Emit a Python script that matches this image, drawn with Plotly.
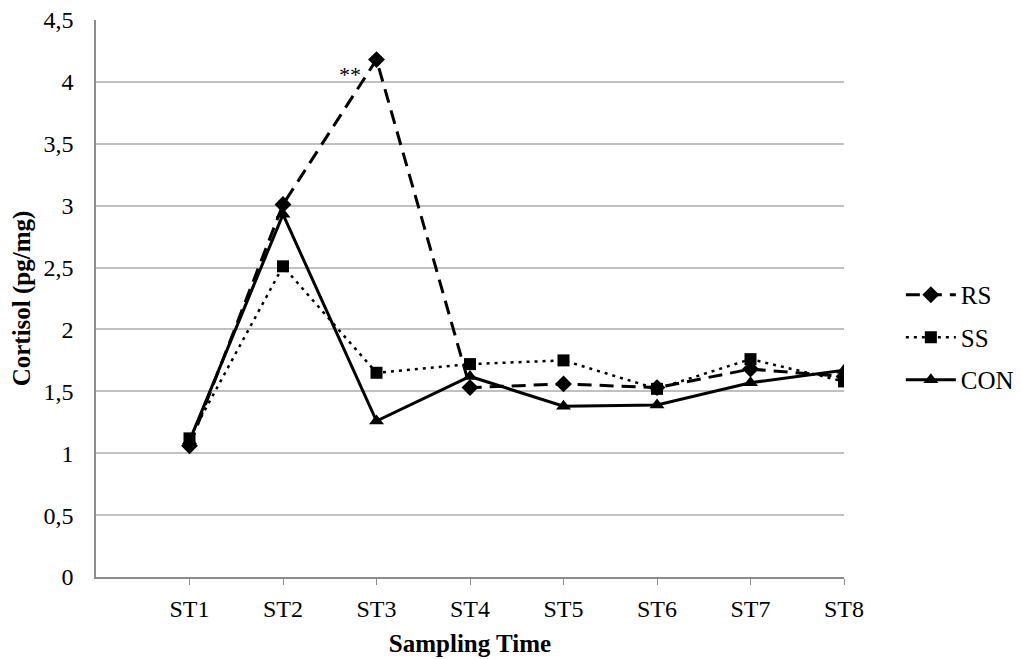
import plotly.graph_objects as go

categories = ["ST1", "ST2", "ST3", "ST4", "ST5", "ST6", "ST7", "ST8"]
rs = [1.06, 3.01, 4.18, 1.53, 1.56, 1.53, 1.68, 1.62]
ss = [1.12, 2.51, 1.65, 1.72, 1.75, 1.52, 1.76, 1.58]
con = [1.10, 2.93, 1.26, 1.62, 1.38, 1.39, 1.57, 1.67]
y_ticks = [0, 0.5, 1, 1.5, 2, 2.5, 3, 3.5, 4, 4.5]
y_labels = ["0", "0,5", "1", "1,5", "2", "2,5", "3", "3,5", "4", "4,5"]

xpos = list(range(1, len(categories) + 1))
font = "Liberation Serif, Times New Roman, serif"

fig = go.Figure()
fig.add_trace(go.Scatter(x=xpos, y=rs, name="RS", mode="lines+markers", legendgroup="a",
                         line=dict(color="black", width=3, dash="14px,8px"),
                         marker=dict(symbol="diamond", size=13, color="black")))
fig.add_trace(go.Scatter(x=xpos, y=ss, name="SS", mode="lines+markers", legendgroup="b",
                         line=dict(color="black", width=2.5, dash="3px,5px"),
                         marker=dict(symbol="square", size=12, color="black")))
fig.add_trace(go.Scatter(x=xpos, y=con, name="CON", mode="lines+markers", legendgroup="c",
                         line=dict(color="black", width=3),
                         marker=dict(symbol="triangle-up", size=13, color="black")))

fig.add_annotation(x=xpos[2], y=rs[2], text="**", showarrow=False,
                   xanchor="right", yanchor="top", xshift=-14, yshift=0,
                   font=dict(family=font, size=22, color="black"))

fig.update_layout(
    width=1022, height=659,
    margin=dict(l=96, r=178, t=20, b=82, autoexpand=False),
    paper_bgcolor="white", plot_bgcolor="white",
    font=dict(family=font, size=24, color="black"),
    showlegend=True,
    legend=dict(x=1.076, y=0.43, xanchor="left", yanchor="middle",
                font=dict(family=font, size=25, color="black"),
                itemwidth=50, tracegroupgap=7, bgcolor="rgba(0,0,0,0)"),
    xaxis=dict(range=[0, 8], tickvals=xpos, ticktext=categories,
               showgrid=False, zeroline=False, showline=True, automargin=False,
               linecolor="#8c8c8c", linewidth=1.5, ticks="outside",
               ticklen=6, tickcolor="#8c8c8c", ticklabelstandoff=3,
               tickfont=dict(family=font, size=24),
               title=dict(text="<b>Sampling Time</b>", standoff=14,
                          font=dict(family=font, size=25))),
    yaxis=dict(range=[0, 4.5], tickvals=y_ticks, ticktext=y_labels,
               showgrid=True, gridcolor="#c0c0c0", gridwidth=1.5,
               zeroline=False, showline=True, linecolor="#8c8c8c", automargin=False,
               linewidth=1.5, ticks="", ticklen=0, ticklabelstandoff=16,
               tickfont=dict(family=font, size=24),
               title=dict(text="<b>Cortisol (pg/mg)</b>", standoff=6,
                          font=dict(family=font, size=25))),
)

fig.write_html("out.html")
